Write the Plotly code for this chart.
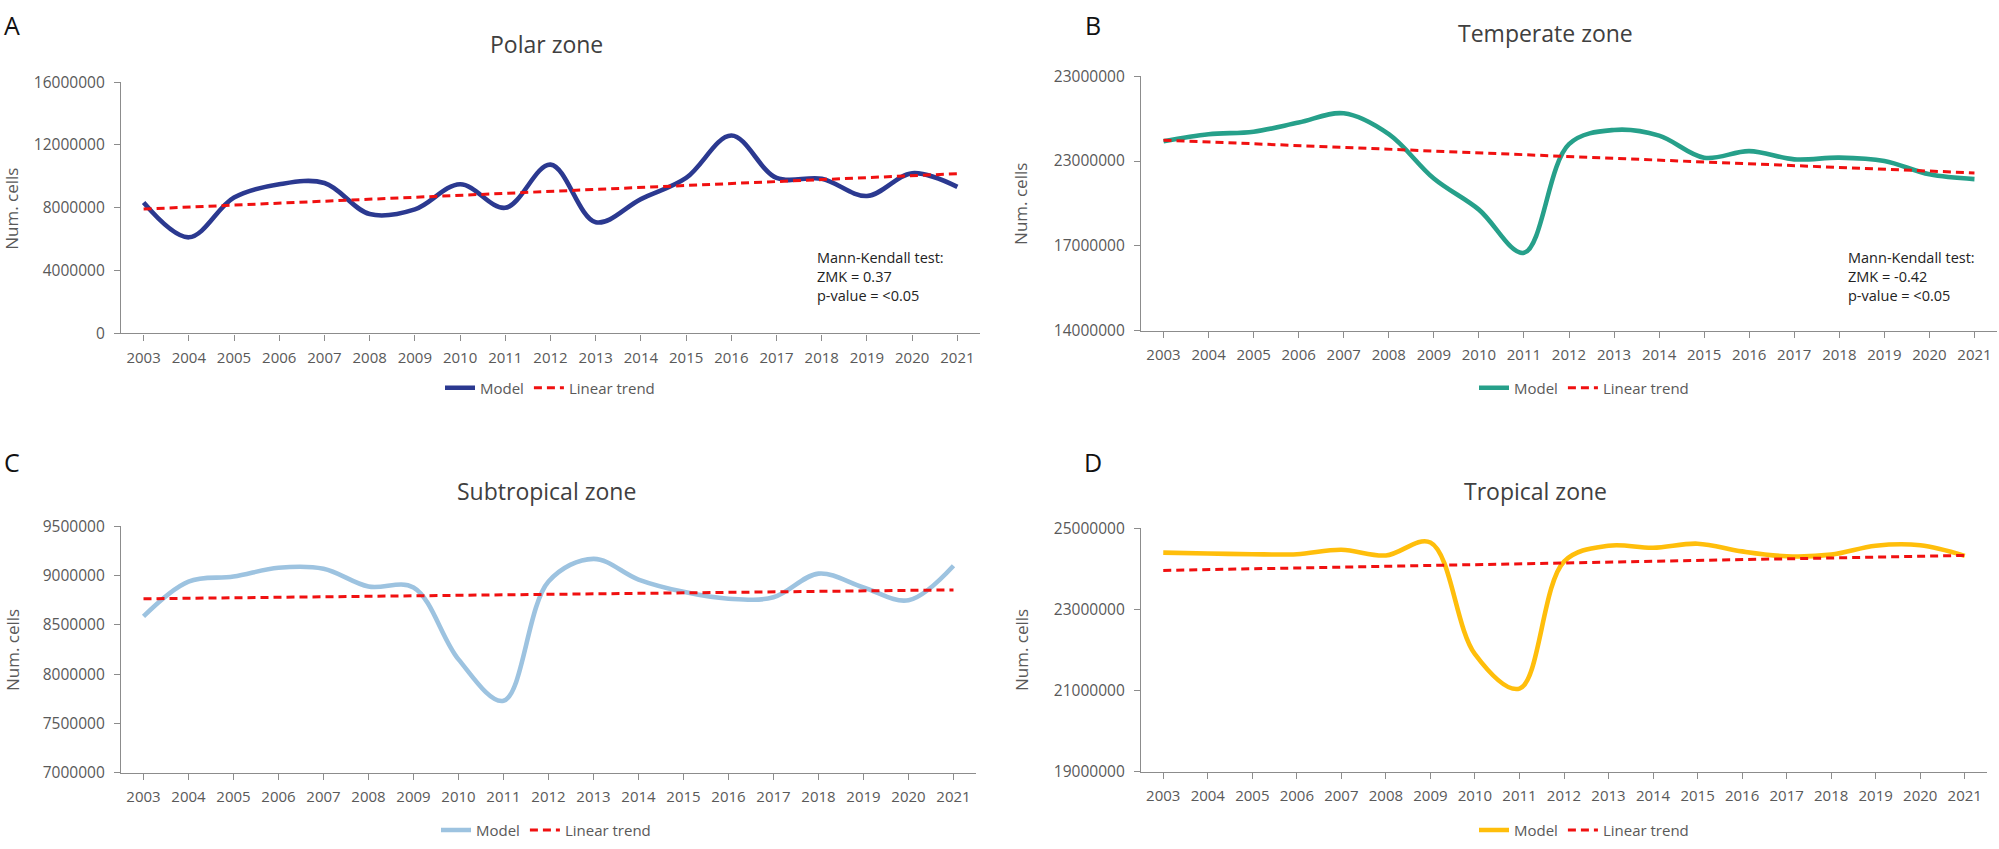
import plotly.graph_objects as go

# ---------------- data ----------------
years = list(range(2003, 2022))
year_labels = [str(y) for y in years]

polar = [8.33e6, 6.12e6, 8.65e6, 9.50e6, 9.58e6, 7.60e6, 7.90e6, 9.50e6, 8.00e6, 10.75e6,
         7.08e6, 8.55e6, 9.90e6, 12.60e6, 9.90e6, 9.85e6, 8.75e6, 10.20e6, 9.33e6]
temperate = [20.70e6, 20.95e6, 21.04e6, 21.36e6, 21.69e6, 20.95e6, 19.38e6, 18.28e6, 16.75e6, 20.60e6,
             21.10e6, 20.90e6, 20.12e6, 20.35e6, 20.06e6, 20.12e6, 20.00e6, 19.53e6, 19.36e6]
subtropical = [8.587e6, 8.94e6, 8.99e6, 9.08e6, 9.07e6, 8.89e6, 8.88e6, 8.15e6, 7.73e6, 8.94e6,
               9.17e6, 8.96e6, 8.835e6, 8.765e6, 8.78e6, 9.02e6, 8.88e6, 8.75e6, 9.10e6]
tropical = [24.40e6, 24.38e6, 24.36e6, 24.36e6, 24.47e6, 24.33e6, 24.65e6, 21.90e6, 21.05e6, 24.18e6,
            24.57e6, 24.52e6, 24.62e6, 24.43e6, 24.31e6, 24.35e6, 24.57e6, 24.58e6, 24.32e6]

trend_years = [2003, 2021]
trend_polar = [7.92e6, 10.17e6]
trend_temperate = [20.74e6, 19.58e6]
trend_subtropical = [8.765e6, 8.855e6]
trend_tropical = [23.96e6, 24.33e6]

ticks_polar = [0, 4e6, 8e6, 12e6, 16e6]
ticktext_polar = ["0", "4000000", "8000000", "12000000", "16000000"]
ticks_temperate = [14e6, 17e6, 20e6, 23e6]
ticktext_temperate = ["14000000", "17000000", "23000000", "23000000"]
ticks_subtropical = [7.0e6, 7.5e6, 8.0e6, 8.5e6, 9.0e6, 9.5e6]
ticktext_subtropical = ["7000000", "7500000", "8000000", "8500000", "9000000", "9500000"]
ticks_tropical = [19e6, 21e6, 23e6, 25e6]
ticktext_tropical = ["19000000", "21000000", "23000000", "25000000"]

titles = ["Polar zone", "Temperate zone", "Subtropical zone", "Tropical zone"]
letters = ["A", "B", "C", "D"]
mk_a = "Mann-Kendall test:<br>ZMK = 0.37<br>p-value = <0.05"
mk_b = "Mann-Kendall test:<br>ZMK = -0.42<br>p-value = <0.05"

colors = ["#2B3990", "#26A08A", "#9DC3E0", "#FFBE0B"]
RED = "#F01010"

W, H = 1999, 849
FONT = "Open Sans"
GREY = "#595959"
AXC = "#8C8C8C"

def px(x):
    return x / W

def py(y):
    return 1 - y / H

fig = go.Figure()

series = [polar, temperate, subtropical, tropical]
trends = [trend_polar, trend_temperate, trend_subtropical, trend_tropical]
legends = ["legend", "legend2", "legend3", "legend4"]
for i in range(4):
    xa = "x" if i == 0 else f"x{i+1}"
    ya = "y" if i == 0 else f"y{i+1}"
    fig.add_trace(go.Scatter(x=years, y=series[i], mode="lines", name="Model",
                             line=dict(color=colors[i], width=4.6, shape="spline", smoothing=1.0),
                             xaxis=xa, yaxis=ya, legend=legends[i], hoverinfo="skip"))
    fig.add_trace(go.Scatter(x=trend_years, y=trends[i], mode="lines", name="Linear trend",
                             line=dict(color=RED, width=3, dash="8px,5px"),
                             xaxis=xa, yaxis=ya, legend=legends[i], hoverinfo="skip"))

domains = [
    dict(x=[px(121), px(980)], y=[py(330), py(72)]),
    dict(x=[px(1141), px(1997)], y=[py(327), py(66)]),
    dict(x=[px(121), px(976)], y=[py(781), py(528)]),
    dict(x=[px(1141), px(1987)], y=[py(780), py(530)]),
]
yspecs = [
    (ticks_polar, ticktext_polar, [0, 16e6]),
    (ticks_temperate, ticktext_temperate, [14e6, 23e6]),
    (ticks_subtropical, ticktext_subtropical, [7e6, 9.5e6]),
    (ticks_tropical, ticktext_tropical, [19e6, 25e6]),
]

layout = {}
for i in range(4):
    xk = "xaxis" if i == 0 else f"xaxis{i+1}"
    yk = "yaxis" if i == 0 else f"yaxis{i+1}"
    ya = "y" if i == 0 else f"y{i+1}"
    xa = "x" if i == 0 else f"x{i+1}"
    layout[xk] = dict(domain=domains[i]["x"], anchor=ya, range=[2002.5, 2021.5],
                      tickvals=years, ticktext=year_labels, ticks="outside", ticklen=6,
                      tickcolor=AXC, showline=True, linecolor=AXC, linewidth=1.3,
                      showgrid=False, zeroline=False, tickfont=dict(family=FONT, size=15, color=GREY),
                      ticklabelstandoff=4, fixedrange=True)
    tv, tt, rg = yspecs[i]
    layout[yk] = dict(domain=domains[i]["y"], anchor=xa, range=rg, tickvals=tv, ticktext=tt,
                      ticks="outside", ticklen=6, tickcolor=AXC, showline=True, linecolor=AXC,
                      linewidth=1.3, showgrid=False, zeroline=False,
                      tickfont=dict(family=FONT, size=15.5, color=GREY), ticklabelstandoff=6,
                      fixedrange=True)

leg_common = dict(orientation="h", xanchor="center", yanchor="middle",
                  font=dict(family=FONT, size=15, color=GREY), bgcolor="rgba(0,0,0,0)",
                  tracegroupgap=0)
layout["legend"] = dict(x=px(550), y=py(386), **leg_common)
layout["legend2"] = dict(x=px(1584), y=py(386), **leg_common)
layout["legend3"] = dict(x=px(546), y=py(840), **leg_common)
layout["legend4"] = dict(x=px(1584), y=py(840), **leg_common)

ann = []
letter_pos = [(12, 13), (1093, 13), (12, 462), (1093, 462)]
for (lx, ly), t in zip(letter_pos, letters):
    ann.append(dict(x=px(lx), y=py(ly), text=t, showarrow=False, xref="paper", yref="paper",
                    xanchor="center", yanchor="middle", font=dict(family=FONT, size=25, color="#111111")))
title_pos = [(546, 33), (1545, 22), (546, 492), (1535, 492)]
for (tx, ty), t in zip(title_pos, titles):
    ann.append(dict(x=px(tx), y=py(ty), text=t, showarrow=False, xref="paper", yref="paper",
                    xanchor="center", yanchor="middle", font=dict(family=FONT, size=23, color="#404040")))
ytitle_pos = [(12, 202), (1021, 197), (12, 655), (1021, 655)]
for (tx, ty) in ytitle_pos:
    ann.append(dict(x=px(tx), y=py(ty), text="Num. cells", showarrow=False, xref="paper", yref="paper",
                    xanchor="center", yanchor="middle", textangle=-90,
                    font=dict(family=FONT, size=17, color=GREY)))
ann.append(dict(x=px(815), y=py(272), text=mk_a, showarrow=False, xref="paper", yref="paper",
                xanchor="left", yanchor="middle", align="left",
                font=dict(family=FONT, size=14.5, color="#222222")))
ann.append(dict(x=px(1846), y=py(272), text=mk_b, showarrow=False, xref="paper", yref="paper",
                xanchor="left", yanchor="middle", align="left",
                font=dict(family=FONT, size=14.5, color="#222222")))

fig.update_layout(width=W, height=H, margin=dict(l=0, r=0, t=0, b=0),
                  paper_bgcolor="white", plot_bgcolor="white", annotations=ann,
                  font=dict(family=FONT), **layout)

fig.write_html("out.html", config={"displayModeBar": False},
               post_script="document.body.style.margin='0';document.body.style.overflow='hidden';")
